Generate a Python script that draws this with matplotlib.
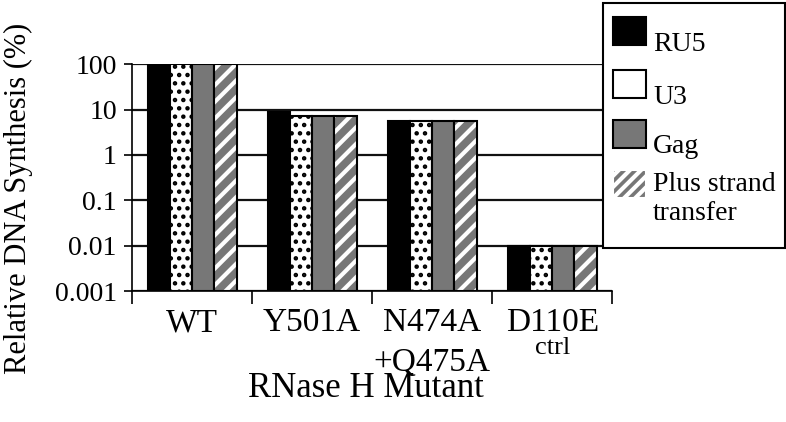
import numpy as np
import matplotlib.pyplot as plt
import matplotlib.artist as martist
from matplotlib.patches import Patch
import matplotlib.transforms as mtransforms

mutants = ['WT', 'Y501A', 'N474A\n+Q475A', 'D110E']
series = ['RU5', 'U3', 'Gag', 'Plus strand\ntransfer']
ru5 = [100, 8.8, 5.6, 0.01]
u3 = [100, 7.2, 5.6, 0.01]
gag = [100, 7.2, 5.6, 0.01]
plus = [100, 7.2, 5.6, 0.01]

serif = 'Liberation Serif'
base = 0.001   # bottom of the log axis, bars start here
grey = '#777777'

fig = plt.figure(figsize=(7.86, 4.22), dpi=100)
ax = fig.add_axes([0.168, 0.310, 0.611, 0.538])

ind = np.arange(len(mutants))
width = 0.185
offs = np.array([-1.5, -0.5, 0.5, 1.5]) * width


def hbars(x, vals, **kw):
    return ax.bar(x, np.array(vals) - base, width, bottom=base, **kw)


def set_hlw(bars, lw):
    for b in bars:
        if hasattr(b, 'set_hatch_linewidth'):
            b.set_hatch_linewidth(lw)


# RU5: solid black
hbars(ind + offs[0], ru5, color='black', edgecolor='black', linewidth=1.5, zorder=3)
# U3: white with black dots
plt.rcParams['hatch.linewidth'] = 2.0
b = hbars(ind + offs[1], u3, color='white', edgecolor='black', hatch='..',
          linewidth=1.5, zorder=3)
set_hlw(b, 2.0)
# Gag: grey
hbars(ind + offs[2], gag, color=grey, edgecolor='black', linewidth=1.5, zorder=3)
# Plus strand transfer: grey with white stripes, black outline on top
plt.rcParams['hatch.linewidth'] = 3.0
b = hbars(ind + offs[3], plus, color=grey, edgecolor='white', hatch='//',
          linewidth=0, zorder=3)
set_hlw(b, 3.0)
hbars(ind + offs[3], plus, fill=False, edgecolor='black', linewidth=1.5, zorder=4)

ax.set_yscale('log')
ax.set_ylim(0.001, 100)
ax.set_xlim(-0.5, 3.5)
ax.set_yticks([0.001, 0.01, 0.1, 1, 10, 100])
ax.set_yticklabels(['0.001', '0.01', '0.1', '1', '10', '100'],
                   fontfamily=serif, fontsize=20)
ax.yaxis.set_minor_locator(plt.NullLocator())
ax.yaxis.grid(True, color='#111111', linewidth=1.6, zorder=0)
ax.tick_params(axis='y', direction='out', length=6, width=1.2, pad=5)

ax.set_xticks(np.arange(-0.5, 4.0, 1.0))
ax.set_xticklabels([])
ax.tick_params(axis='x', which='major', direction='out', length=9, width=1.2)
ax.set_xticks(ind, minor=True)
ax.set_xticklabels(mutants, minor=True, fontfamily=serif, fontsize=24,
                   linespacing=1.38, va='top')
ax.tick_params(axis='x', which='minor', length=0, pad=12)

trans = mtransforms.blended_transform_factory(ax.transData, ax.transAxes)
ax.text(3, -0.2, 'ctrl', transform=trans, ha='center', va='top',
        fontfamily=serif, fontsize=19)

for s in ['top', 'right']:
    ax.spines[s].set_visible(False)
ax.spines['left'].set_linewidth(1.2)
ax.spines['bottom'].set_linewidth(1.2)

ax.set_ylabel('Relative DNA Synthesis (%)', fontfamily=serif, fontsize=22)
ax.yaxis.set_label_coords(-0.206, 0.41)
ax.set_xlabel('RNase H Mutant', fontfamily=serif, fontsize=25)
ax.xaxis.set_label_coords(0.4875, -0.355)

handles = [
    Patch(facecolor='black', edgecolor='black', linewidth=1.5),
    Patch(facecolor='white', edgecolor='black', linewidth=1.5),
    Patch(facecolor=grey, edgecolor='black', linewidth=1.5),
    Patch(facecolor=grey, edgecolor='white', hatch='///', linewidth=1.5),
]
leg = fig.legend(handles, series, loc='upper left',
                 bbox_to_anchor=(603 / 786, 1 - 3 / 422), bbox_transform=fig.transFigure,
                 prop={'family': serif, 'size': 20}, frameon=True, fancybox=False,
                 edgecolor='black', framealpha=1, handlelength=1.2, handleheight=1.2,
                 handletextpad=0.25, labelspacing=0.99, borderpad=0.35,
                 borderaxespad=0)
leg.get_frame().set_linewidth(1.5)


def px(dy):
    return mtransforms.ScaledTranslation(0, dy / 100, fig.dpi_scale_trans)


# labels sit a little lower than their swatches, as in the original;
# the last swatch lines up with the first line of its two-line label
text_dy = [-15, -11, -2, 12]
handle_dy = [-4, 0, 7, 27]
for t, dy in zip(leg.get_texts(), text_dy):
    t.set_transform(t.get_transform() + px(dy))
for h, dy in zip(leg.legend_handles, handle_dy):
    h.set_transform(martist.Artist.get_transform(h) + px(dy))

fig.savefig('out.png', dpi=100)
